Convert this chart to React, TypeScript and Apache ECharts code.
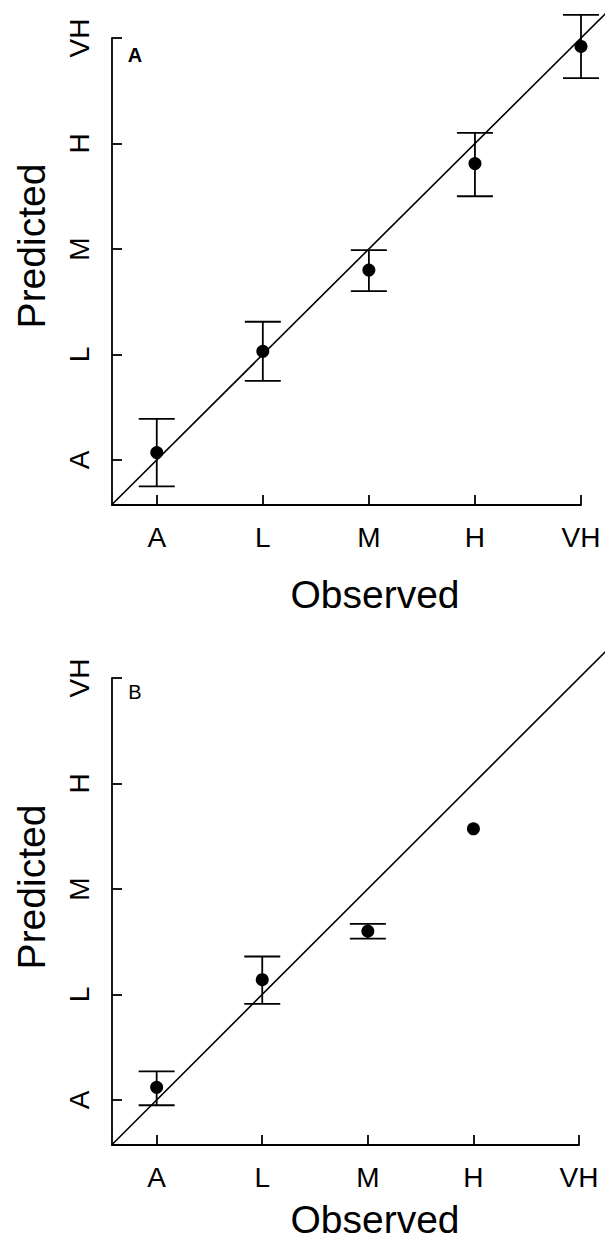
import React, { useEffect, useRef } from "react";
import * as echarts from "echarts";

const categories = ["A", "L", "M", "H", "VH"];
const tickValues = [1, 2, 3, 4, 5];

// Panel A
const obsA = [1, 2, 3, 4, 5];
const predA = [1.07, 2.03, 2.8, 3.81, 4.92];
const lowA = [0.75, 1.75, 2.6, 3.5, 4.62];
const highA = [1.39, 2.31, 2.99, 4.1, 5.22];

// Panel B
const obsB = [1, 2, 3, 4];
const predB = [1.12, 2.14, 2.6, 3.57];
const lowB = [0.95, 1.91, 2.53, null];
const highB = [1.27, 2.36, 2.67, null];

// 1:1 reference line (start, end)
const identityLine = [0.578, 5.3];

const FONT = "'Liberation Sans', Arial, Helvetica, sans-serif";

export default function App() {
  const ref = useRef<HTMLDivElement>(null);
  useEffect(() => {
    if (!ref.current) return;
    const chart = echarts.init(ref.current, null, { renderer: "svg" });

    const fmt = (v: number) => {
      const i = Math.round(v);
      return Math.abs(v - i) < 1e-6 && i >= 1 && i <= 5 ? categories[i - 1] : "";
    };
    const axisCommon = (min: number) => ({
      type: "value",
      min,
      max: 5,
      splitLine: { show: false },
      axisLine: { show: true, onZero: false, lineStyle: { color: "#000", width: 1.8 } },
      axisTick: {
        show: true,
        inside: true,
        length: 10,
        customValues: tickValues,
        lineStyle: { color: "#000", width: 1.8 },
      },
    });
    const xAxis = (gi: number, min: number) => ({
      ...axisCommon(min),
      gridIndex: gi,
      axisLabel: {
        formatter: fmt,
        customValues: tickValues,
        fontSize: 28,
        color: "#000",
        fontFamily: FONT,
        margin: 18,
      },
    });
    const yAxis = (gi: number, min: number) => ({
      ...axisCommon(min),
      gridIndex: gi,
      axisLabel: {
        formatter: fmt,
        customValues: tickValues,
        fontSize: 28,
        color: "#000",
        fontFamily: FONT,
        margin: 19,
        rotate: 90,
      },
    });

    const errData = (obs: number[], low: (number | null)[], high: (number | null)[]) =>
      obs
        .map((o, i) => (low[i] == null || high[i] == null ? null : [o, low[i], high[i]]))
        .filter((d) => d !== null);

    const errSeries = (gi: number, data: any[]) => ({
      type: "custom",
      xAxisIndex: gi,
      yAxisIndex: gi,
      clip: false,
      data,
      renderItem: (params: any, api: any) => {
        const x = api.value(0);
        const lo = api.coord([x, api.value(1)]);
        const hi = api.coord([x, api.value(2)]);
        const hw = 18;
        const style = { stroke: "#000", lineWidth: 1.8, fill: "none" };
        return {
          type: "group",
          children: [
            { type: "line", shape: { x1: lo[0], y1: lo[1], x2: hi[0], y2: hi[1] }, style },
            { type: "line", shape: { x1: lo[0] - hw, y1: lo[1], x2: lo[0] + hw, y2: lo[1] }, style },
            { type: "line", shape: { x1: hi[0] - hw, y1: hi[1], x2: hi[0] + hw, y2: hi[1] }, style },
          ],
        };
      },
    });

    const lineSeries = (gi: number) => ({
      type: "custom",
      xAxisIndex: gi,
      yAxisIndex: gi,
      clip: false,
      data: [[identityLine[0], identityLine[1]]],
      renderItem: (params: any, api: any) => {
        const a = api.value(0);
        const b = api.value(1);
        const p0 = api.coord([a, a]);
        const p1 = api.coord([b, b]);
        return {
          type: "line",
          shape: { x1: p0[0], y1: p0[1], x2: p1[0], y2: p1[1] },
          style: { stroke: "#000", lineWidth: 1.6, fill: "none" },
        };
      },
    });

    const pointSeries = (gi: number, obs: number[], pred: number[]) => ({
      type: "scatter",
      xAxisIndex: gi,
      yAxisIndex: gi,
      symbol: "circle",
      symbolSize: 13,
      itemStyle: { color: "#000", opacity: 1 },
      data: obs.map((o, i) => [o, pred[i]]),
      z: 5,
    });

    const titleText = (text: string, x: number, y: number, rotation = 0) => ({
      type: "text",
      x,
      y,
      rotation,
      style: {
        text,
        fontSize: 39,
        fontFamily: FONT,
        fill: "#000",
        textAlign: "center",
        textVerticalAlign: "middle",
      },
    });

    chart.setOption({
      animation: false,
      backgroundColor: "#fff",
      grid: [
        { left: 112, top: 38, width: 469, height: 467 },
        { left: 112, top: 678, width: 467, height: 467 },
      ],
      xAxis: [xAxis(0, 0.578), xAxis(1, 0.577)],
      yAxis: [yAxis(0, 0.573), yAxis(1, 0.573)],
      series: [
        lineSeries(0),
        errSeries(0, errData(obsA, lowA, highA)),
        pointSeries(0, obsA, predA),
        lineSeries(1),
        errSeries(1, errData(obsB, lowB, highB)),
        pointSeries(1, obsB, predB),
      ],
      graphic: [
        titleText("Observed", 375, 594),
        titleText("Predicted", 31, 246, Math.PI / 2),
        titleText("Observed", 375, 1219),
        titleText("Predicted", 31, 887, Math.PI / 2),
        {
          type: "text",
          x: 135,
          y: 55,
          style: { text: "A", fontSize: 20, fontWeight: "bold", fontFamily: FONT, fill: "#000", textAlign: "center", textVerticalAlign: "middle" },
        },
        {
          type: "text",
          x: 135,
          y: 692,
          style: { text: "B", fontSize: 20, fontFamily: FONT, fill: "#000", textAlign: "center", textVerticalAlign: "middle" },
        },
      ],
    });
    return () => chart.dispose();
  }, []);
  return (
    <div
      ref={ref}
      style={{ position: "absolute", left: 0, top: 0, width: 605, height: 1241 }}
    />
  );
}
